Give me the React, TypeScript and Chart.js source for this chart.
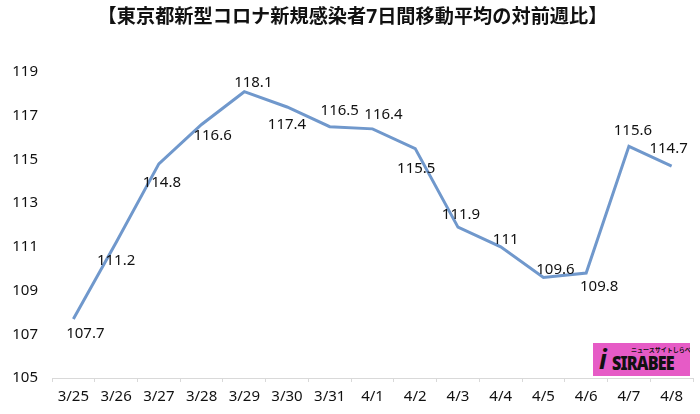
import React, { useEffect, useRef } from "react";
import { Chart, registerables } from "chart.js";

Chart.register(...registerables);

const TITLE = "【東京都新型コロナ新規感染者7日間移動平均の対前週比】";
const categories = ["3/25", "3/26", "3/27", "3/28", "3/29", "3/30", "3/31", "4/1", "4/2", "4/3", "4/4", "4/5", "4/6", "4/7", "4/8"];
const values = [107.7, 111.2, 114.8, 116.6, 118.1, 117.4, 116.5, 116.4, 115.5, 111.9, 111, 109.6, 109.8, 115.6, 114.7];
const yMin = 105;
const yMax = 119;
const yStep = 2;

// label offsets (style): [dx, dy] from point
const labelOffsets: [number, number][] = [
  [12, 15], [0, 18], [3, 19], [11, 11], [9, -9], [0, 18], [10, -16], [11, -14],
  [1, 20], [3, -12], [5, -7], [12, -8], [13, 14], [4, -16], [-3, -17],
];

const FONT = "'Noto Sans', 'Noto Sans CJK JP', sans-serif";

const labelPlugin = {
  id: "pointLabels",
  afterDatasetsDraw(chart: any) {
    const ctx = chart.ctx;
    const meta = chart.getDatasetMeta(0);
    ctx.save();
    ctx.font = `15px ${FONT}`;
    ctx.fillStyle = "#111";
    ctx.textAlign = "center";
    ctx.textBaseline = "middle";
    meta.data.forEach((pt: any, i: number) => {
      const [dx, dy] = labelOffsets[i];
      ctx.fillText(String(values[i]), pt.x + dx, pt.y + dy);
    });
    ctx.restore();
  },
};

export default function App() {
  const ref = useRef<HTMLCanvasElement>(null);
  useEffect(() => {
    document.body.style.margin = "0";
    const chart = new Chart(ref.current!, {
      type: "line",
      data: {
        labels: categories,
        datasets: [
          {
            data: values,
            borderColor: "#7098cc",
            borderWidth: 3,
            pointRadius: 0,
            tension: 0,
            fill: false,
          },
        ],
      },
      options: {
        animation: false,
        responsive: false,
        maintainAspectRatio: false,
        layout: { padding: { left: 12, right: 7, top: 0, bottom: 2 } },
        plugins: {
          legend: { display: false },
          tooltip: { enabled: false },
          title: {
            display: true,
            text: TITLE,
            color: "#111",
            font: { family: FONT, size: 19.2, weight: "bold" },
            padding: { top: 6, bottom: 43 },
          },
        },
        scales: {
          x: {
            offset: true,
            grid: {
              offset: true,
              display: true,
              drawOnChartArea: false,
              drawTicks: true,
              tickLength: 4,
              color: "#d9d9d9",
            },
            border: { display: true, color: "#d9d9d9", width: 1 },
            ticks: {
              color: "#111",
              font: { family: FONT, size: 15 },
              padding: 6,
              maxRotation: 0,
              autoSkip: false,
            },
          },
          y: {
            min: yMin,
            max: yMax,
            grid: { display: false, drawTicks: false, tickLength: 0 },
            border: { display: false },
            afterFit: (s: any) => {
              s.width = 40;
            },
            ticks: {
              stepSize: yStep,
              color: "#111",
              font: { family: FONT, size: 15 },
              padding: 14,
            },
          },
        },
      },
      plugins: [labelPlugin],
    });
    return () => chart.destroy();
  }, []);

  return (
    <div style={{ position: "relative", width: 700, height: 414, background: "#fff" }}>
      <canvas ref={ref} width={700} height={414} style={{ display: "block" }} />
      <div
        style={{
          position: "absolute",
          left: 593,
          top: 343,
          width: 97,
          height: 33,
          background: "#e65bc6",
          fontFamily: FONT,
          color: "#111",
          overflow: "hidden",
        }}
      >
        <div style={{ position: "absolute", left: 38, top: 2, fontSize: 6, fontWeight: "bold", whiteSpace: "nowrap" }}>
          ニュースサイトしらべぇ
        </div>
        <div style={{ position: "absolute", left: 6, top: 1, fontSize: 26, fontWeight: "bold", lineHeight: "30px", fontStyle: "italic" }}>
          i
        </div>
        <div style={{ position: "absolute", left: 19, top: 9, fontSize: 19, fontWeight: 900, lineHeight: "22px", letterSpacing: -1, whiteSpace: "nowrap", transform: "scaleX(0.85)", transformOrigin: "left" }}>
          SIRABEE
        </div>
      </div>
    </div>
  );
}
